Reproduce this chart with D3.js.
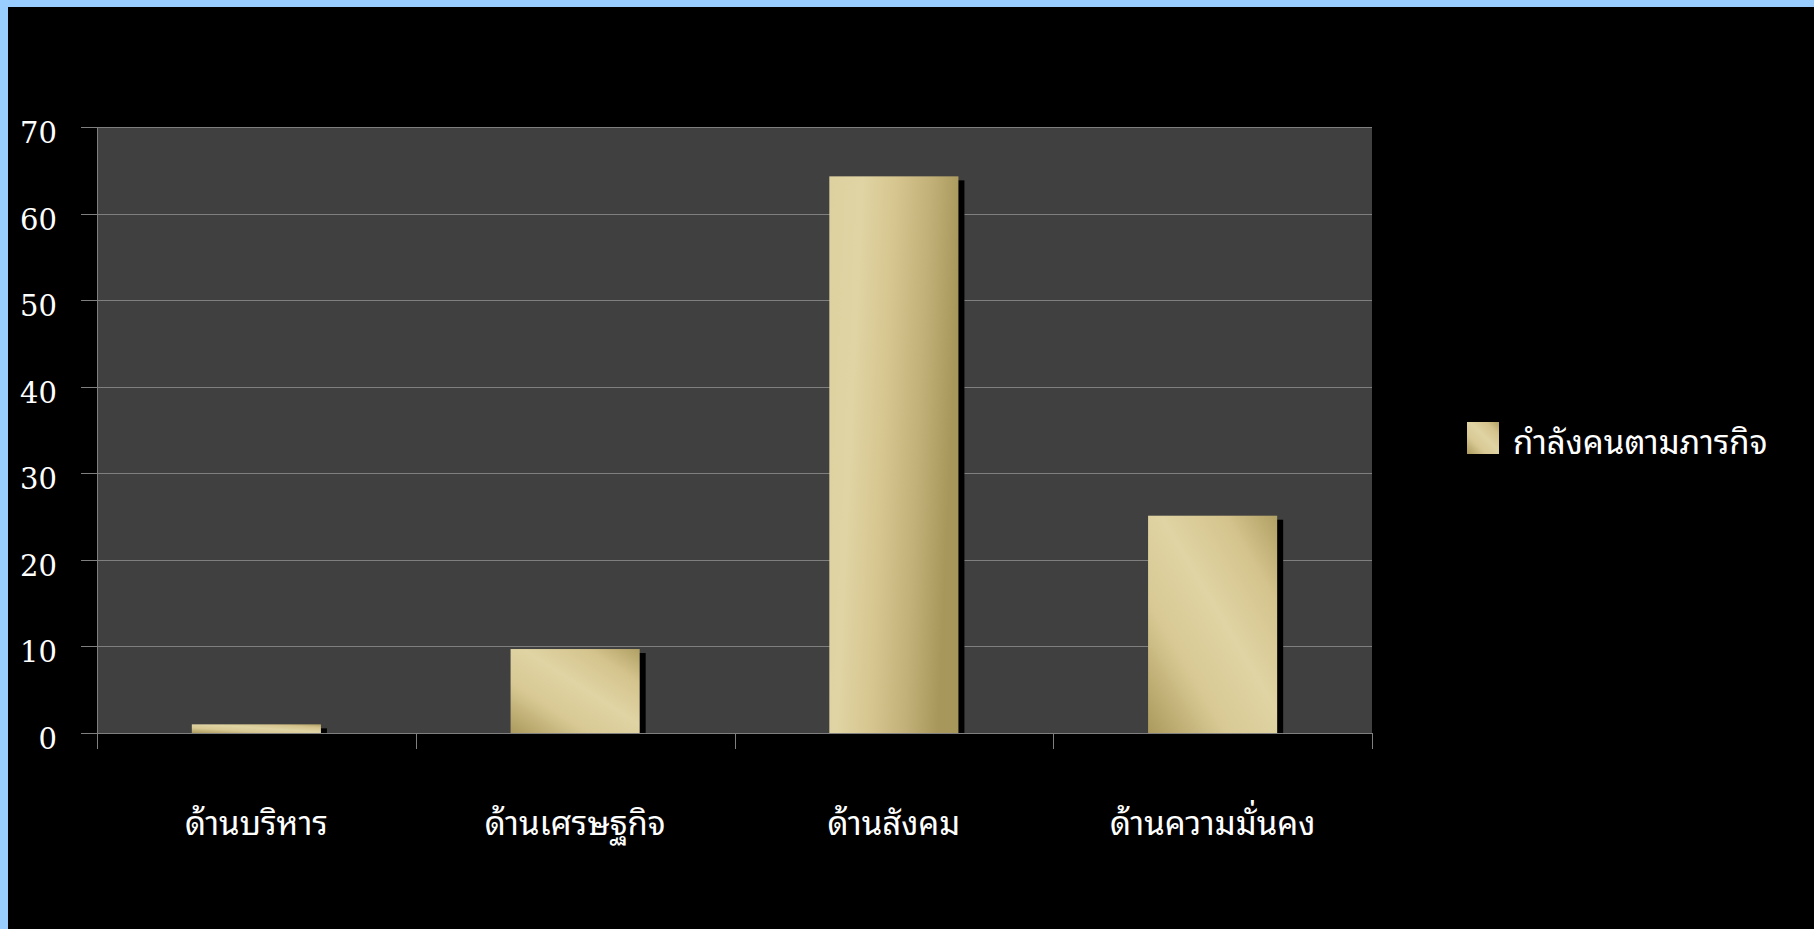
<!DOCTYPE html>
<html>
<head>
<meta charset="utf-8">
<script src="https://cdn.jsdelivr.net/npm/d3@7/dist/d3.min.js"></script>
<style>
html,body{margin:0;padding:0;background:#000;}
svg{display:block;}
</style>
</head>
<body>
<svg id="chart" width="1814" height="929"></svg>
<script>
const categories = ["ด้านบริหาร", "ด้านเศรษฐกิจ", "ด้านสังคม", "ด้านความมั่นคง"];
const values = [1, 9.7, 64.3, 25.1];
const seriesName = "กำลังคนตามภารกิจ";
const yTicks = [0, 10, 20, 30, 40, 50, 60, 70];

const W = 1814, H = 929;
const svg = d3.select("#chart");
const plot = {left: 97, right: 1372, top: 127, bottom: 733};
const thaiFont = "'Noto Sans Thai Looped','Noto Serif Thai','Loma','Garuda','Tlwg Typo','Noto Sans Thai','Noto Sans',sans-serif";
const numFont = "'DejaVu Serif','Liberation Serif',serif";

// background + border
svg.append("rect").attr("width", W).attr("height", H).attr("fill", "#99ccff");
svg.append("rect").attr("x", 8).attr("y", 7).attr("width", W - 8).attr("height", H - 7).attr("fill", "#000");

const defs = svg.append("defs");
const g1 = defs.append("linearGradient").attr("id", "gold").attr("x1", "0%").attr("y1", "0%").attr("x2", "100%").attr("y2", "20%");
[["0%", "#ddd1a0"], ["25%", "#e0d4a4"], ["50%", "#d6c58e"], ["75%", "#c2b27a"], ["100%", "#a8975a"]].forEach(s => g1.append("stop").attr("offset", s[0]).attr("stop-color", s[1]));
const g2 = defs.append("linearGradient").attr("id", "goldSmall").attr("x1", "0%").attr("y1", "100%").attr("x2", "100%").attr("y2", "0%");
[["0%", "#ab9a5c"], ["30%", "#d8c994"], ["55%", "#e0d4a4"], ["80%", "#d4c38c"], ["100%", "#b0a064"]].forEach(s => g2.append("stop").attr("offset", s[0]).attr("stop-color", s[1]));

const x = d3.scaleBand().domain(categories).range([plot.left, plot.right]).paddingInner(0.595).paddingOuter(0.2975);
const y = d3.scaleLinear().domain([0, 70]).range([plot.bottom, plot.top]);

// plot area
svg.append("rect").attr("x", plot.left).attr("y", plot.top).attr("width", plot.right - plot.left).attr("height", plot.bottom - plot.top).attr("fill", "#404040");

// gridlines
svg.append("g").selectAll("line").data(yTicks).join("line")
  .attr("x1", plot.left - 16).attr("x2", plot.right)
  .attr("y1", d => Math.round(y(d)) + 0.5).attr("y2", d => Math.round(y(d)) + 0.5)
  .attr("stroke", "#7f7f7f").attr("stroke-width", 1);

// y axis line
svg.append("line").attr("x1", plot.left + 0.5).attr("x2", plot.left + 0.5).attr("y1", plot.top).attr("y2", plot.bottom + 16).attr("stroke", "#7f7f7f");

// category tick marks
const bounds = categories.map(c => x(c) - x.step() * x.paddingOuter()).concat([plot.right]);
svg.append("g").selectAll("line").data(bounds).join("line")
  .attr("x1", d => Math.round(d) + 0.5).attr("x2", d => Math.round(d) + 0.5)
  .attr("y1", plot.bottom).attr("y2", plot.bottom + 16)
  .attr("stroke", "#7f7f7f");

// y labels
svg.append("g").selectAll("text").data(yTicks).join("text")
  .attr("x", 57).attr("y", d => y(d) + 16)
  .attr("text-anchor", "end")
  .attr("fill", "#fff").attr("font-family", numFont).attr("font-size", 29)
  .text(d => d);

// shadows
svg.append("g").selectAll("rect").data(values).join("rect")
  .attr("x", (d, i) => x(categories[i]) + 6).attr("y", d => y(d) + 4)
  .attr("width", x.bandwidth()).attr("height", d => y(0) - y(d) - 4)
  .attr("fill", "#000");

// bars
svg.append("g").selectAll("rect").data(values).join("rect")
  .attr("x", (d, i) => x(categories[i])).attr("y", d => y(d))
  .attr("width", x.bandwidth()).attr("height", d => y(0) - y(d))
  .attr("fill", (d, i) => i === 2 ? "url(#gold)" : "url(#goldSmall)");

// category labels
svg.append("g").selectAll("text").data(categories).join("text")
  .attr("x", d => x(d) + x.bandwidth() / 2).attr("y", 835)
  .attr("text-anchor", "middle")
  .attr("fill", "#fff").attr("font-family", thaiFont).attr("font-size", 33)
  .text(d => d);

// legend
svg.append("rect").attr("x", 1467).attr("y", 422).attr("width", 32).attr("height", 32).attr("fill", "url(#goldSmall)");
svg.append("text").attr("x", 1513).attr("y", 454)
  .attr("fill", "#fff").attr("font-family", thaiFont).attr("font-size", 33)
  .text(seriesName);
</script>
</body>
</html>
